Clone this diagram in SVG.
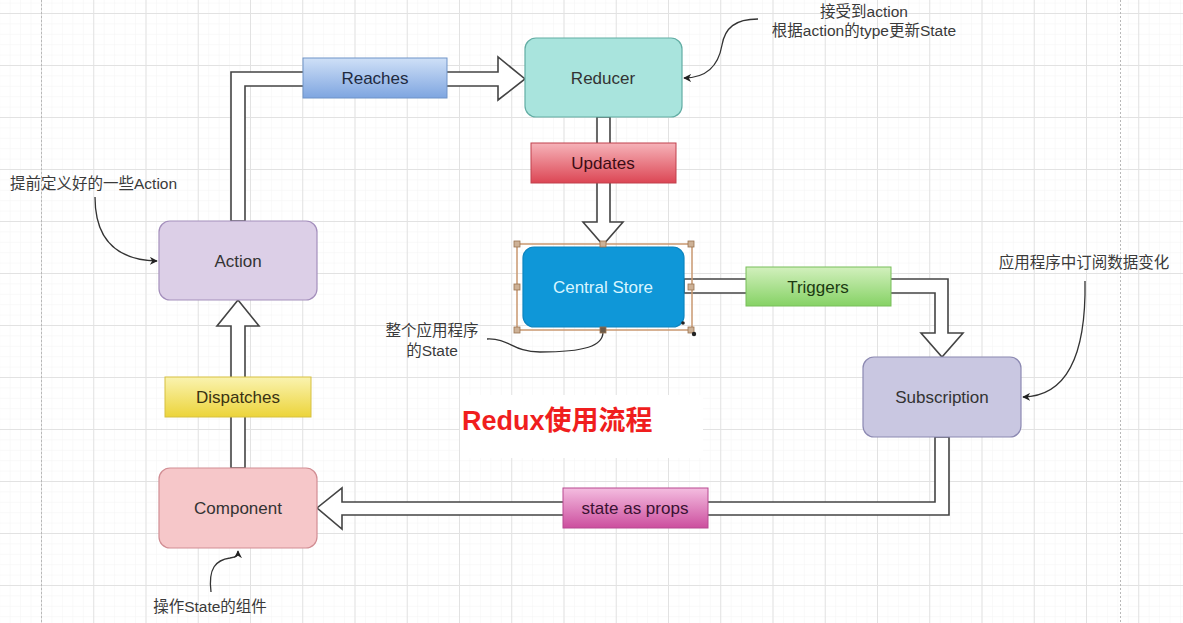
<svg xmlns="http://www.w3.org/2000/svg" width="1183" height="623" viewBox="0 0 1183 623">
<defs>
<pattern id="minor" patternUnits="userSpaceOnUse" x="41" y="13" width="10.45" height="10.4">
<path d="M0,0 H10.45 M0,0 V10.4" stroke="#f3f3f3" stroke-width="1" fill="none"/>
</pattern>
<pattern id="major" patternUnits="userSpaceOnUse" x="41" y="13" width="52.25" height="52">
<path d="M0,0.5 H52.25 M0.5,0 V52" stroke="#e2e2e2" stroke-width="1" fill="none"/>
</pattern>
<linearGradient id="gBlue" x1="0" y1="0" x2="0" y2="1"><stop offset="0" stop-color="#cfe0f7"/><stop offset="1" stop-color="#7ea5e0"/></linearGradient>
<linearGradient id="gRed" x1="0" y1="0" x2="0" y2="1"><stop offset="0" stop-color="#f6b3b9"/><stop offset="1" stop-color="#dc4654"/></linearGradient>
<linearGradient id="gGreen" x1="0" y1="0" x2="0" y2="1"><stop offset="0" stop-color="#d2f0bd"/><stop offset="1" stop-color="#86d265"/></linearGradient>
<linearGradient id="gYellow" x1="0" y1="0" x2="0" y2="1"><stop offset="0" stop-color="#faf3b0"/><stop offset="1" stop-color="#ecd43a"/></linearGradient>
<linearGradient id="gPink" x1="0" y1="0" x2="0" y2="1"><stop offset="0" stop-color="#f4bde0"/><stop offset="1" stop-color="#cc4e9e"/></linearGradient>
<marker id="ah" viewBox="0 0 10 10" refX="9" refY="5" markerWidth="8" markerHeight="8" markerUnits="userSpaceOnUse" orient="auto">
<path d="M0,0 L10,5 L0,10 L3,5 Z" fill="#222"/>
</marker>
<style>
.node{stroke-width:1.2}
.nt{font-family:"Liberation Sans","Noto Sans CJK SC",sans-serif;font-size:17px;fill:#333;text-anchor:middle}
.lbl{stroke-width:1}
.lt{font-family:"Liberation Sans","Noto Sans CJK SC",sans-serif;font-size:17px;text-anchor:middle}
.ann{font-family:"Liberation Sans","Noto Sans CJK SC",sans-serif;font-size:15.5px;fill:#3a3a3a}
.hollow{fill:#fff;stroke:#444;stroke-width:1.6;stroke-linejoin:miter}
.curve{fill:none;stroke:#333;stroke-width:1.3}
.hd{fill:#cdb196;stroke:#9a7350;stroke-width:0.8}
</style>
</defs>
<rect width="1183" height="623" fill="#fff"/>
<rect width="1183" height="623" fill="url(#minor)"/>
<rect width="1183" height="623" fill="url(#major)"/>
<line x1="41.5" y1="0" x2="41.5" y2="623" stroke="#b8b8b8" stroke-dasharray="2,2"/>
<line x1="1120.5" y1="0" x2="1120.5" y2="623" stroke="#b8b8b8" stroke-dasharray="2,2"/>

<g id="connectors">
<polygon class="hollow" points="231,221 231,72 498,72 498,57 525,79 498,100 498,86 245,86 245,221"/>
<polygon class="hollow" points="597,117 597,222 583,222 603,245 623,222 610,222 610,117"/>
<polygon class="hollow" points="684,279 948,279 948,333 963,333 942,357 921,333 935,333 935,293 684,293"/>
<polygon class="hollow" points="935,437 935,502 342,502 342,488 317,508 342,529 342,515 949,515 949,437"/>
<polygon class="hollow" points="231,468 231,326 217,326 238,300 259,326 245,326 245,468"/>
<path class="curve" d="M95,197 C95,232 110,260 157,261" marker-end="url(#ah)"/>
<path class="curve" d="M758,19 C735,19 725,28 722,45 C718,68 705,78 684,78" marker-end="url(#ah)"/>
<path class="curve" d="M1085,281 C1086,340 1075,396 1023,397" marker-end="url(#ah)"/>
<path class="curve" d="M487,339 C510,338 512,352 540,352 C585,352 603,346 603,332"/>
<path class="curve" d="M211,592 C208,568 216,560 230,558 C236,557 238,556 238,551" marker-end="url(#ah)"/>
</g>

<g id="label-reaches">
<rect class="lbl" x="303" y="58" width="144" height="40" fill="url(#gBlue)" stroke="#6f93c8"/>
<text class="lt" x="375" y="84" fill="#1e2a40">Reaches</text>
</g>
<g id="label-updates">
<rect class="lbl" x="531" y="143" width="145" height="40" fill="url(#gRed)" stroke="#c0404c"/>
<text class="lt" x="603" y="169" fill="#3c0c14">Updates</text>
</g>
<g id="label-triggers">
<rect class="lbl" x="746" y="267" width="145" height="39" fill="url(#gGreen)" stroke="#78be5a"/>
<text class="lt" x="818" y="293" fill="#1c3a12">Triggers</text>
</g>
<g id="label-dispatches">
<rect class="lbl" x="165" y="377" width="146" height="40" fill="url(#gYellow)" stroke="#d6c040"/>
<text class="lt" x="238" y="403" fill="#3a3212">Dispatches</text>
</g>
<g id="label-stateasprops">
<rect class="lbl" x="563" y="488" width="145" height="40" fill="url(#gPink)" stroke="#b84890"/>
<text class="lt" x="635" y="514" fill="#3a1232">state as props</text>
</g>

<g id="node-reducer">
<rect class="node" x="525" y="38" width="157" height="79" rx="11" fill="#a9e4dd" stroke="#62ada4"/>
<text class="nt" x="603" y="84">Reducer</text>
</g>
<g id="node-action">
<rect class="node" x="159" y="221" width="158" height="79" rx="11" fill="#dccfe7" stroke="#a48fbc"/>
<text class="nt" x="238" y="267">Action</text>
</g>
<g id="node-central-store">
<rect x="517" y="244" width="175" height="86" fill="none" stroke="#c99870" stroke-width="1.5"/>
<rect class="node" x="523" y="247" width="161" height="80" rx="11" fill="#0f97d8" stroke="#0d85c0"/>
<text class="nt" x="603" y="293" style="fill:#d8f5ff">Central Store</text>
<rect class="hd" x="514" y="241" width="6" height="6"/>
<rect class="hd" x="600" y="241" width="6" height="6"/>
<rect class="hd" x="688" y="241" width="6" height="6"/>
<rect class="hd" x="514" y="284" width="6" height="6"/>
<rect class="hd" x="688" y="284" width="6" height="6"/>
<rect class="hd" x="514" y="327" width="6" height="6"/>
<rect class="hd" x="600" y="327" width="6" height="6" style="fill:#6a5a4a"/>
<rect class="hd" x="688" y="327" width="6" height="6"/>
<circle cx="683" cy="323" r="1.8" fill="#222"/>
<circle cx="694" cy="334" r="2.2" fill="#222"/>
</g>
<g id="node-subscription">
<rect class="node" x="863" y="357" width="158" height="80" rx="11" fill="#c9c7e1" stroke="#8c89b2"/>
<text class="nt" x="942" y="403">Subscription</text>
</g>
<g id="node-component">
<rect class="node" x="159" y="468" width="158" height="80" rx="11" fill="#f6c7c9" stroke="#d18d93"/>
<text class="nt" x="238" y="514">Component</text>
</g>

<g id="annotations">
<text class="ann" x="10" y="189">提前定义好的一些Action</text>
<text class="ann" x="864" y="17" text-anchor="middle">接受到action</text>
<text class="ann" x="864" y="36" text-anchor="middle">根据action的type更新State</text>
<text class="ann" x="1084" y="268" text-anchor="middle">应用程序中订阅数据变化</text>
<text class="ann" x="432" y="336" text-anchor="middle">整个应用程序</text>
<text class="ann" x="432" y="356" text-anchor="middle">的State</text>
<text class="ann" x="210" y="612" text-anchor="middle">操作State的组件</text>
</g>

<g id="title">
<rect x="460" y="395" width="243" height="63" fill="#fff"/>
<text x="462" y="430" font-family="'Liberation Sans','Noto Sans CJK SC',sans-serif" font-size="27" font-weight="bold" fill="#f01e1e">Redux使用流程</text>
</g>
</svg>
